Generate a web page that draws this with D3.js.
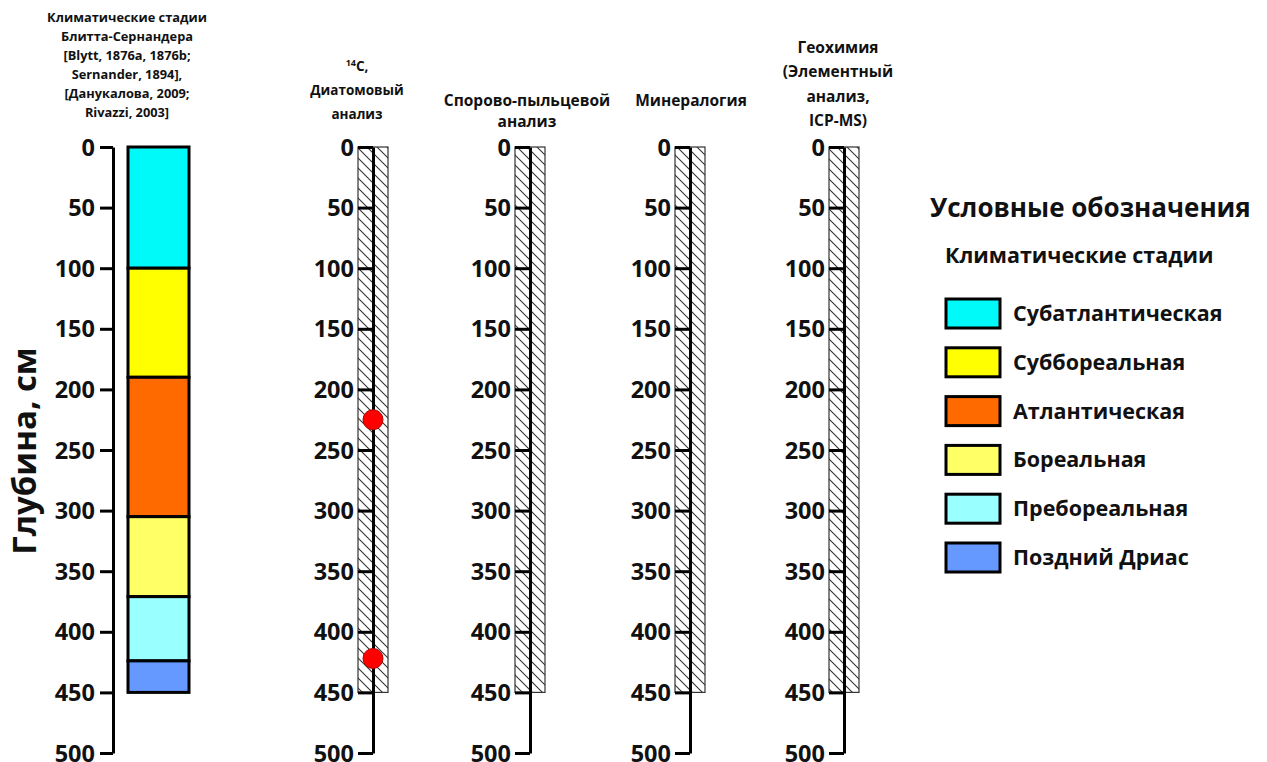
<!DOCTYPE html>
<html>
<head>
<meta charset="utf-8">
<script src="https://cdn.jsdelivr.net/npm/d3@7"></script>
<style>
  html, body { margin: 0; padding: 0; background: #fff; }
  svg { display: block; font-family: "Open Sans", "DejaVu Sans", sans-serif; font-weight: 700; }
</style>
</head>
<body>
<svg id="chart" width="1267" height="762"></svg>
<script>
// Climatic stages (Blytt–Sernander) with depth boundaries, cm
const stageNames = ["Субатлантическая", "Суббореальная", "Атлантическая", "Бореальная", "Пребореальная", "Поздний Дриас"];
const stageTop = [0, 100, 190, 305, 371, 424];
const stageBottom = [100, 190, 305, 371, 424, 450];
const stageColors = ["#00FAFA", "#FFFF00", "#FF6A00", "#FFFF66", "#99FFFF", "#6699FF"];

// Sampled analysis columns
const columnKeys = ["c14", "spore", "mineral", "geochem"];
const sampledDepth = [0, 450];
// 14C dating points
const c14Depths = [225, 422];

// Depth axis
const depthDomain = [0, 500];
const depthTicks = [0, 50, 100, 150, 200, 250, 300, 350, 400, 450, 500];

const svg = d3.select("#chart");
const y = d3.scaleLinear().domain(depthDomain).range([147, 753]);

// Column x positions of the depth axes
const axisX = { stages: 113, c14: 373, spore: 530, mineral: 690, geochem: 844 };

// hatch pattern
const defs = svg.append("defs");
const pat = defs.append("pattern")
  .attr("id", "hatch").attr("patternUnits", "userSpaceOnUse")
  .attr("width", 10).attr("height", 10);
pat.append("path")
  .attr("d", "M-2,-2 L12,12 M-2,8 L2,12 M8,-2 L12,2")
  .attr("stroke", "#333").attr("stroke-width", 1.1).attr("fill", "none");

function drawAxis(x, tickSize, pad) {
  const g = svg.append("g").attr("transform", `translate(${x},0)`)
    .call(d3.axisLeft(y).tickValues(depthTicks).tickSize(tickSize).tickSizeOuter(0).tickPadding(pad));
  g.select(".domain").attr("stroke", "#000").attr("stroke-width", 3);
  g.selectAll(".tick line").attr("stroke", "#000").attr("stroke-width", 3);
  g.selectAll(".tick text")
    .attr("fill", "#111")
    .style("font-family", "'Open Sans', sans-serif")
    .style("font-weight", 700)
    .style("font-size", "23.5px")
    .attr("dy", "0.34em");
  return g;
}

// Stage column
drawAxis(axisX.stages, 13, 5);
svg.append("g").selectAll("rect")
  .data(stageNames)
  .join("rect")
  .attr("x", 128).attr("width", 61)
  .attr("y", (d, i) => y(stageTop[i]))
  .attr("height", (d, i) => y(stageBottom[i]) - y(stageTop[i]))
  .attr("fill", (d, i) => stageColors[i])
  .attr("stroke", "#000").attr("stroke-width", 3);

// Hatched sampled columns
columnKeys.forEach(k => {
  svg.append("rect")
    .attr("x", axisX[k] - 15).attr("width", 30)
    .attr("y", y(sampledDepth[0]))
    .attr("height", y(sampledDepth[1]) - y(sampledDepth[0]))
    .attr("fill", "url(#hatch)")
    .attr("stroke", "#333").attr("stroke-width", 1.2);
  drawAxis(axisX[k], 15, 4);
});

// 14C points
svg.append("g").selectAll("circle")
  .data(c14Depths)
  .join("circle")
  .attr("cx", axisX.c14).attr("cy", d => y(d)).attr("r", 10)
  .attr("fill", "#FF0000").attr("stroke", "#B00000").attr("stroke-width", 1);

// Y axis title
svg.append("text")
  .attr("transform", "translate(36,451) rotate(-90)")
  .attr("text-anchor", "middle")
  .style("font-size", "33px").attr("fill", "#111")
  .text("Глубина, см");

// Column headers
function header(lines, cx, y0, lh, size) {
  const t = svg.append("text").attr("text-anchor", "middle")
    .style("font-size", size + "px").attr("fill", "#111");
  lines.forEach((l, i) => {
    t.append("tspan").attr("x", cx).attr("y", y0 + i * lh).text(l);
  });
  return t;
}
header(["Климатические стадии", "Блитта-Сернандера", "[Blytt, 1876a, 1876b;", "Sernander, 1894],", "[Данукалова, 2009;", "Rivazzi, 2003]"], 127, 22, 19, 12.8);

// 14C header with superscript
const h14 = svg.append("text").attr("text-anchor", "middle")
  .style("font-size", "13.5px").attr("fill", "#111");
const l1 = h14.append("tspan").attr("x", 357).attr("y", 71);
l1.append("tspan").style("font-size", "9px").attr("dy", "-5").text("14");
l1.append("tspan").attr("dy", "5").text("C,");
h14.append("tspan").attr("x", 357).attr("y", 95).text("Диатомовый");
h14.append("tspan").attr("x", 357).attr("y", 119).text("анализ");

header(["Спорово-пыльцевой", "анализ"], 527, 106, 21, 15.5);
header(["Минералогия"], 691, 106, 22, 15.5);
header(["Геохимия", "(Элементный", "анализ,", "ICP-MS)"], 838, 53, 24.3, 15.5);

// Legend
const lg = svg.append("g");
lg.append("text").attr("x", 930).attr("y", 217)
  .style("font-size", "26px").attr("fill", "#111").text("Условные обозначения");
lg.append("text").attr("x", 945).attr("y", 263)
  .style("font-size", "21.5px").attr("fill", "#111").text("Климатические стадии");
const items = lg.selectAll("g.item").data(stageNames).join("g").attr("class", "item")
  .attr("transform", (d, i) => `translate(946,${299 + i * 48.8})`);
items.append("rect").attr("width", 54).attr("height", 29)
  .attr("fill", (d, i) => stageColors[i])
  .attr("stroke", "#000").attr("stroke-width", 3);
items.append("text").attr("x", 67).attr("y", 22)
  .style("font-size", "21.5px").attr("fill", "#111").text(d => d);
</script>
</body>
</html>
